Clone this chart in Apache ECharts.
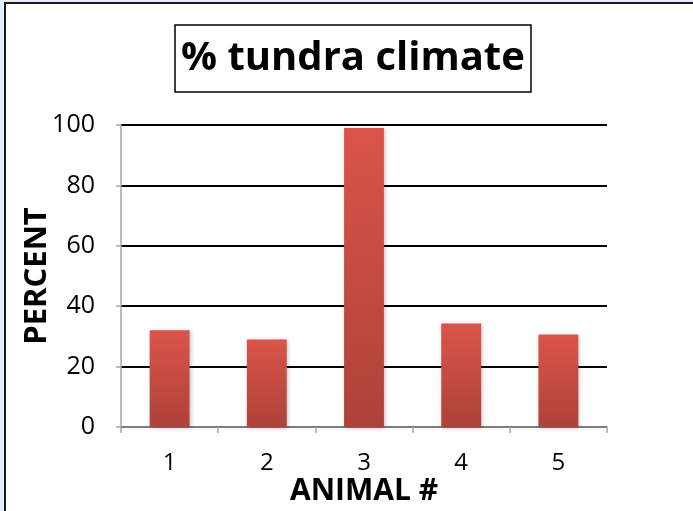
<!DOCTYPE html>
<html>
<head>
<meta charset="utf-8">
<script src="https://cdn.jsdelivr.net/npm/echarts@6/dist/echarts.min.js"></script>
<style>
  html, body { margin: 0; padding: 0; background: #e3eef8; }
  #chart { width: 693px; height: 511px; }
</style>
</head>
<body>
<div id="chart"></div>
<script>
// Share of each animal's range that lies in tundra climate
const animals = ['1', '2', '3', '4', '5'];
const percentTundra = [32, 29, 99, 34.3, 30.6];
const yTicks = [0, 20, 40, 60, 80, 100];

const chart = echarts.init(document.getElementById('chart'));

const barFill = new echarts.graphic.LinearGradient(0, 0, 0, 1, [
  { offset: 0, color: '#da544a' },
  { offset: 1, color: '#ae4239' }
]);

chart.setOption({
  animation: false,
  backgroundColor: '#e3eef8',
  graphic: [
    {
      type: 'rect',
      z: -10,
      shape: { x: 5, y: 3, width: 720, height: 540 },
      style: { fill: '#ffffff', stroke: '#1a1a1a', lineWidth: 2 }
    }
  ],
  title: {
    text: '% tundra climate',
    left: 175,
    top: 25,
    padding: [13, 6, 12, 6],
    borderColor: '#000',
    borderWidth: 1.5,
    backgroundColor: '#fff',
    textStyle: {
      fontFamily: 'Open Sans',
      fontWeight: 'bold',
      fontSize: 40,
      lineHeight: 42,
      color: '#000'
    }
  },
  grid: { left: 121, right: 86, top: 125, bottom: 84 },
  xAxis: {
    type: 'category',
    data: animals,
    name: 'ANIMAL #',
    nameLocation: 'middle',
    nameGap: 49,
    nameMoveOverlap: false,
    nameTextStyle: { fontFamily: 'Open Sans', fontWeight: 'bold', fontSize: 30, color: '#000' },
    axisLine: { lineStyle: { color: '#a6a6a6', width: 1.5 } },
    axisTick: { show: true, length: 6, lineStyle: { color: '#a6a6a6', width: 1.5 } },
    axisLabel: { fontFamily: 'Open Sans', fontSize: 24, color: '#000', margin: 24 },
    splitLine: { show: false }
  },
  yAxis: {
    type: 'value',
    min: 0,
    max: 100,
    interval: 20,
    name: 'PERCENT',
    nameLocation: 'middle',
    nameGap: 68,
    nameMoveOverlap: false,
    nameRotate: 90,
    nameTextStyle: { fontFamily: 'Open Sans', fontWeight: 'bold', fontSize: 31, color: '#000' },
    axisLine: { show: true, lineStyle: { color: '#a6a6a6', width: 1.5 } },
    axisTick: { show: true, length: 5, lineStyle: { color: '#a6a6a6', width: 1.5 } },
    axisLabel: {
      fontFamily: 'Open Sans', fontSize: 25, color: '#000', margin: 26,
      formatter: v => (yTicks.includes(v) ? String(v) : '')
    },
    splitLine: { show: true, lineStyle: { color: '#000', width: 2 } }
  },
  series: [
    {
      type: 'bar',
      data: percentTundra,
      barWidth: '41%',
      itemStyle: {
        color: barFill,
        shadowColor: 'rgba(0,0,0,0.25)',
        shadowBlur: 4,
        shadowOffsetX: 1,
        shadowOffsetY: 1
      }
    }
  ]
});
</script>
</body>
</html>
